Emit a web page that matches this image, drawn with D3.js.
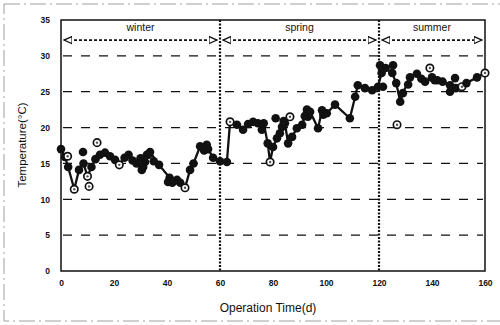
<!DOCTYPE html>
<html>
<head>
<meta charset="utf-8">
<script src="https://cdn.jsdelivr.net/npm/d3@7"></script>
<style>
  body { margin: 0; background: #fff; }
  text { font-family: Arial, "Liberation Sans", sans-serif; fill: #111; }
</style>
</head>
<body>
<div id="chart"></div>
<script>
// line series (day, temperature)
var lineDays = [0, 1.5, 2.7, 5, 6.8, 8.5, 10, 11.5, 13, 14.7, 16.6, 18.5, 20.4, 22, 24, 25.5, 27, 28.5, 30.5, 31.7, 32.4, 33.6, 37, 41, 43.8, 45, 46.8, 48.7, 50, 52.5, 54, 55.5, 57.4, 60, 62.6,
    63.8, 66.4, 68.7, 70.6, 72.5, 74.3, 75.8, 76.5, 78, 78.9, 80, 81.5, 82.6, 83.4, 84.5, 85.7, 87.2, 89, 91, 92.8, 93.2, 94, 97, 98.5, 100.3, 103.4, 109, 111, 112, 114.7, 117.4, 119.6,
    121, 122.5, 125, 126.5, 128, 129, 131.7, 134.3, 136, 137.4, 140, 142, 144, 146.8, 149, 151.3, 153, 157, 160]
var lineTemps = [17.0, 15.9, 14.5, 11.4, 14.1, 15.0, 13.2, 14.5, 15.6, 16.2, 16.5, 16.0, 15.5, 14.8, 15.8, 16.2, 15.4, 15.0, 14.1, 15.2, 16.2, 16.6, 14.8, 13.0, 12.7, 12.3, 11.6, 14.1, 15.0, 17.4, 16.8, 17.0, 15.8, 15.3, 15.2,
    20.8, 20.4, 19.7, 20.5, 20.8, 20.6, 19.7, 20.6, 17.8, 15.2, 17.3, 18.5, 19.2, 20.1, 20.6, 17.8, 18.7, 19.9, 20.4, 22.5, 21.5, 22.2, 19.9, 22.4, 22.0, 23.2, 21.3, 24.3, 25.9, 25.5, 25.2, 25.7,
    27.6, 28.3, 27.6, 26.2, 23.6, 24.8, 27.0, 27.5, 26.8, 26.4, 27.0, 26.6, 26.4, 25.9, 25.5, 25.7, 26.2, 27.0, 27.6]
// which line markers are drawn open
var openDays = [5, 10, 22, 46.8, 63.8, 78.9, 151.3, 160]

// extra measured points off the line
var dotDays = [8.3, 30, 31, 33, 35, 40.4, 42, 55, 81, 84, 92, 99, 120.4, 121.5, 125.3, 131, 141, 146.8, 148.7]
var dotTemps = [16.6, 15.7, 14.5, 16.2, 15.3, 12.4, 12.3, 17.6, 21.3, 20.9, 21.6, 21.8, 28.7, 25.7, 28.7, 26.0, 26.6, 25.0, 26.9]
var ringDays = [2.5, 10.6, 13.6, 86.4, 126.8, 139.2]
var ringTemps = [16.0, 11.8, 17.9, 21.5, 20.4, 28.3]

var seasons = ["winter", "spring", "summer"]
var seasonStart = [0, 60, 120]
var seasonEnd = [60, 120, 160]
var seasonY = 32.2

var xTicks = [0, 20, 40, 60, 80, 100, 120, 140, 160]
var yTicks = [0, 5, 10, 15, 20, 25, 30, 35]
var gridTicks = [5, 10, 15, 20, 25, 30]

var W = 500, H = 325

var svg = d3.select("#chart").append("svg")
    .attr("width", W)
    .attr("height", H)

var x = d3.scaleLinear().domain([0, 160]).range([61, 485])
var y = d3.scaleLinear().domain([0, 35]).range([271, 20])

// faint outer frame of the scanned figure (right side runs off the page)
svg.append("rect")
    .attr("x", 4).attr("y", 4)
    .attr("width", 520).attr("height", 317)
    .attr("fill", "none")
    .attr("stroke", "#a0a0a0")
    .attr("stroke-width", 1)
    .attr("stroke-dasharray", "16,4,2,4")

// grid
svg.append("g").selectAll("line")
    .data(gridTicks)
    .enter().append("line")
    .attr("x1", x(0) + 2).attr("x2", x(160) - 2)
    .attr("y1", d => y(d)).attr("y2", d => y(d))
    .attr("stroke", "#111")
    .attr("stroke-width", 1.2)
    .attr("stroke-dasharray", "9,9")

// plot frame
svg.append("rect")
    .attr("x", x(0)).attr("y", y(35))
    .attr("width", x(160) - x(0)).attr("height", y(0) - y(35))
    .attr("fill", "none")
    .attr("stroke", "#111")
    .attr("stroke-width", 1.5)

// axes
var xAxis = svg.append("g")
    .attr("transform", "translate(0," + y(0) + ")")
    .call(d3.axisBottom(x).tickValues(xTicks).tickSize(0).tickPadding(9))
xAxis.select(".domain").remove()
xAxis.selectAll("text").attr("font-size", 8.5).attr("font-weight", "bold").attr("fill", "#111")

var yAxis = svg.append("g")
    .attr("transform", "translate(" + x(0) + ",0)")
    .call(d3.axisLeft(y).tickValues(yTicks).tickSize(0).tickPadding(11))
yAxis.select(".domain").remove()
yAxis.selectAll("text").attr("font-size", 8.5).attr("font-weight", "bold").attr("fill", "#111")

// season separators
svg.append("g").selectAll("line")
    .data([60, 120])
    .enter().append("line")
    .attr("x1", d => x(d)).attr("x2", d => x(d))
    .attr("y1", y(35)).attr("y2", y(0))
    .attr("stroke", "#111")
    .attr("stroke-width", 2.2)
    .attr("stroke-dasharray", "2,1.5")

// season arrows
var defs = svg.append("defs")
defs.append("marker")
    .attr("id", "head")
    .attr("viewBox", "0 0 10 10")
    .attr("refX", 9).attr("refY", 5)
    .attr("markerWidth", 5).attr("markerHeight", 5)
    .attr("orient", "auto-start-reverse")
    .append("path")
    .attr("d", "M0,1 L9,5 L0,9 Z")
    .attr("fill", "#fff")
    .attr("stroke", "#111")
    .attr("stroke-width", 1.5)

var sg = svg.append("g")
seasons.forEach(function (s, i) {
    sg.append("line")
        .attr("x1", x(seasonStart[i]) + 3).attr("x2", x(seasonEnd[i]) - 3)
        .attr("y1", y(seasonY)).attr("y2", y(seasonY))
        .attr("stroke", "#111")
        .attr("stroke-width", 1.8)
        .attr("stroke-dasharray", "3,2")
        .attr("marker-start", "url(#head)")
        .attr("marker-end", "url(#head)")
    sg.append("text")
        .attr("x", x((seasonStart[i] + seasonEnd[i]) / 2))
        .attr("y", y(seasonY) - 9)
        .attr("text-anchor", "middle")
        .attr("font-size", 10.5)
        .text(s)
})

// data line
var pts = lineDays.map((d, i) => [d, lineTemps[i]])
svg.append("path")
    .datum(pts)
    .attr("d", d3.line().x(d => x(d[0])).y(d => y(d[1])))
    .attr("fill", "none")
    .attr("stroke", "#111")
    .attr("stroke-width", 2.3)
    .attr("stroke-linejoin", "round")

function ring(g, cx, cy) {
    g.append("circle")
        .attr("cx", cx).attr("cy", cy).attr("r", 3.7)
        .attr("fill", "#fff").attr("stroke", "#111").attr("stroke-width", 1.7)
    g.append("circle")
        .attr("cx", cx).attr("cy", cy).attr("r", 1.2)
        .attr("fill", "#555")
}

var mg = svg.append("g")
pts.forEach(function (p) {
    if (openDays.indexOf(p[0]) >= 0) {
        ring(mg, x(p[0]), y(p[1]))
    } else {
        mg.append("circle")
            .attr("cx", x(p[0])).attr("cy", y(p[1])).attr("r", 4.3)
            .attr("fill", "#111")
    }
})

dotDays.forEach(function (d, i) {
    mg.append("circle")
        .attr("cx", x(d)).attr("cy", y(dotTemps[i])).attr("r", 4.3)
        .attr("fill", "#111")
})
ringDays.forEach(function (d, i) {
    ring(mg, x(d), y(ringTemps[i]))
})

// axis titles
svg.append("text")
    .attr("x", 268).attr("y", 312)
    .attr("text-anchor", "middle")
    .attr("font-size", 12)
    .text("Operation Time(d)")

svg.append("text")
    .attr("transform", "translate(26,145) rotate(-90)")
    .attr("text-anchor", "middle")
    .attr("font-size", 11.5)
    .text("Temperature(°C)")
</script>
</body>
</html>
